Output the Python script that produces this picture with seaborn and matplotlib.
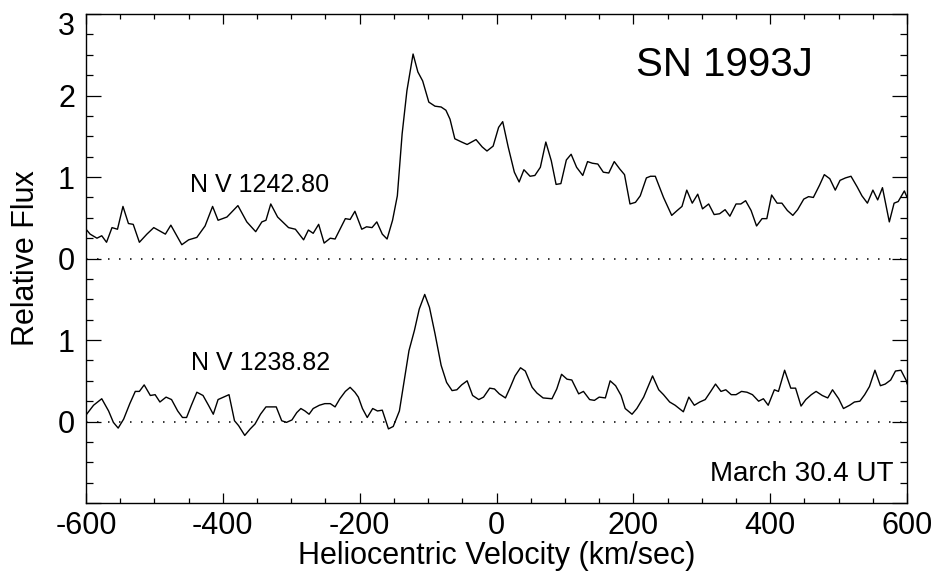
import numpy as np
import pandas as pd
import seaborn as sns
import matplotlib.pyplot as plt
import matplotlib.transforms as mtransforms
from matplotlib.ticker import MultipleLocator, FixedLocator

sns.set_theme(style="ticks")
plt.rcParams['font.family'] = ['Liberation Sans', 'DejaVu Sans']
plt.rcParams['axes.unicode_minus'] = False
for k in ('text.color', 'axes.labelcolor', 'xtick.color', 'ytick.color', 'axes.edgecolor'):
    plt.rcParams[k] = 'black'

# N V 1242.80 profile (upper panel)
v_1242 = [-600, -594, -584, -577, -570, -562, -554, -546, -538, -531, -522, -511, -501,
          -484, -476, -460, -450, -438, -426, -415, -407, -394, -378, -365, -352, -343,
          -337, -330, -320, -304, -294, -282, -275, -268, -260, -252, -243, -236, -221,
          -214, -207, -197, -190, -182, -175, -167, -160, -152, -145, -138, -131, -122,
          -115, -108, -99, -90, -81, -74, -68, -61, -51, -43, -30, -21, -14, -5, 3, 9,
          17, 26, 33, 40, 49, 56, 64, 72, 80, 87, 94, 102, 109, 117, 126, 133, 140, 148,
          156, 164, 172, 180, 187, 195, 203, 210, 219, 225, 232, 244, 256, 264, 271, 278,
          286, 294, 301, 310, 318, 326, 334, 341, 350, 357, 364, 372, 380, 388, 395, 402,
          410, 417, 425, 433, 440, 449, 456, 463, 472, 479, 487, 495, 502, 510, 518, 527,
          534, 542, 550, 557, 564, 574, 581, 587, 596, 600]
flux_1242 = [0.36, 0.30, 0.25, 0.28, 0.20, 0.38, 0.36, 0.64, 0.43, 0.42, 0.20, 0.30, 0.38,
             0.30, 0.41, 0.17, 0.23, 0.26, 0.40, 0.64, 0.47, 0.51, 0.65, 0.45, 0.33, 0.45,
             0.47, 0.67, 0.51, 0.38, 0.36, 0.23, 0.35, 0.31, 0.42, 0.19, 0.25, 0.24, 0.49,
             0.48, 0.58, 0.36, 0.39, 0.38, 0.45, 0.30, 0.24, 0.47, 0.77, 1.53, 2.06, 2.51,
             2.29, 2.18, 1.92, 1.87, 1.86, 1.82, 1.71, 1.47, 1.43, 1.40, 1.46, 1.37, 1.32,
             1.38, 1.61, 1.68, 1.37, 1.06, 0.94, 1.09, 1.01, 1.02, 1.12, 1.43, 1.20, 0.91,
             0.92, 1.21, 1.28, 1.12, 1.02, 1.19, 1.17, 1.16, 1.06, 1.05, 1.19, 1.10, 1.03,
             0.67, 0.69, 0.77, 0.99, 1.01, 1.01, 0.75, 0.53, 0.59, 0.64, 0.84, 0.68, 0.79,
             0.61, 0.67, 0.54, 0.55, 0.60, 0.52, 0.67, 0.67, 0.71, 0.59, 0.40, 0.49, 0.49,
             0.78, 0.68, 0.68, 0.59, 0.53, 0.60, 0.73, 0.76, 0.75, 0.90, 1.03, 0.98, 0.84,
             0.96, 0.99, 1.01, 0.88, 0.77, 0.68, 0.84, 0.72, 0.87, 0.45, 0.68, 0.70, 0.83,
             0.75]

# N V 1238.82 profile (lower panel)
v_1238 = [-600, -589, -577, -567, -560, -553, -545, -536, -528, -522, -515, -506, -499,
          -492, -483, -475, -466, -459, -453, -446, -438, -429, -421, -414, -407, -399,
          -391, -383, -377, -368, -360, -353, -345, -337, -329, -322, -314, -307, -299,
          -292, -286, -280, -274, -268, -259, -251, -243, -236, -229, -221, -214, -207,
          -202, -196, -189, -181, -174, -167, -158, -151, -142, -135, -128, -120, -113,
          -105, -98, -90, -81, -73, -65, -58, -51, -43, -35, -26, -19, -10, -3, 4, 13,
          20, 27, 35, 42, 52, 59, 68, 81, 88, 95, 103, 110, 120, 127, 136, 143, 150, 159,
          166, 174, 182, 188, 198, 205, 215, 228, 237, 244, 253, 261, 273, 281, 289, 297,
          305, 313, 320, 328, 335, 343, 350, 358, 366, 374, 383, 390, 397, 406, 412, 421,
          430, 437, 445, 452, 460, 467, 476, 484, 491, 500, 507, 516, 523, 531, 538, 545,
          553, 561, 568, 576, 583, 591, 599, 600]
flux_1238 = [0.08, 0.20, 0.28, 0.13, -0.01, -0.08, 0.03, 0.22, 0.37, 0.37, 0.45, 0.32, 0.33,
             0.24, 0.30, 0.27, 0.13, 0.05, 0.05, 0.20, 0.36, 0.32, 0.20, 0.09, 0.27, 0.30,
             0.33, 0.01, -0.05, -0.17, -0.09, -0.03, 0.09, 0.18, 0.18, 0.18, 0.01, -0.01,
             0.02, 0.11, 0.16, 0.13, 0.09, 0.16, 0.20, 0.22, 0.22, 0.18, 0.28, 0.37, 0.42,
             0.36, 0.30, 0.16, 0.05, 0.16, 0.13, 0.14, -0.09, -0.06, 0.13, 0.50, 0.87, 1.12,
             1.38, 1.56, 1.40, 1.08, 0.69, 0.48, 0.38, 0.39, 0.45, 0.50, 0.32, 0.27, 0.30,
             0.41, 0.40, 0.34, 0.29, 0.42, 0.56, 0.66, 0.62, 0.42, 0.35, 0.29, 0.28, 0.40,
             0.58, 0.52, 0.51, 0.34, 0.37, 0.27, 0.26, 0.30, 0.29, 0.50, 0.44, 0.32, 0.16,
             0.09, 0.16, 0.30, 0.56, 0.39, 0.33, 0.24, 0.20, 0.12, 0.30, 0.20, 0.24, 0.27,
             0.37, 0.46, 0.37, 0.39, 0.33, 0.33, 0.37, 0.36, 0.33, 0.25, 0.28, 0.20, 0.39,
             0.37, 0.63, 0.41, 0.41, 0.19, 0.27, 0.33, 0.37, 0.32, 0.29, 0.39, 0.28, 0.16,
             0.20, 0.24, 0.25, 0.33, 0.43, 0.63, 0.44, 0.46, 0.51, 0.62, 0.63, 0.50, 0.46]

offset = 2.0  # upper spectrum shifted up by 2 flux units
ytick_pos = [-1, 0, 1, 2, 3, 4, 5]
ytick_lab = ['', '0', '1', '0', '1', '2', '3']

df_up = pd.DataFrame({'v': v_1242, 'flux': np.array(flux_1242) + offset})
df_lo = pd.DataFrame({'v': v_1238, 'flux': flux_1238})

fig, ax = plt.subplots(figsize=(9.4, 5.87), dpi=100)
fig.subplots_adjust(left=0.0915, right=0.965, top=0.976, bottom=0.143)

sns.lineplot(data=df_up, x='v', y='flux', ax=ax, color='black', lw=1.0,
             sort=False, estimator=None)
sns.lineplot(data=df_lo, x='v', y='flux', ax=ax, color='black', lw=1.0,
             sort=False, estimator=None)

# zero levels
for z in (0, offset):
    ax.axhline(z, color='black', lw=1.1, ls=(0, (1, 6.2)))

ax.set_xlim(-600, 600)
ax.set_ylim(-1, 5)
ax.xaxis.set_major_locator(MultipleLocator(200))
ax.xaxis.set_minor_locator(MultipleLocator(50))
ax.yaxis.set_major_locator(FixedLocator(ytick_pos))
ax.yaxis.set_minor_locator(MultipleLocator(0.25))
ax.set_yticklabels(ytick_lab)

ax.tick_params(axis='both', which='both', direction='in', top=True, right=True,
               color='black', width=0.9)
ax.tick_params(axis='x', which='major', length=7, pad=6, labelsize=22)
ax.tick_params(axis='x', which='minor', length=3.6)
ax.tick_params(axis='y', which='major', length=11, pad=8, labelsize=22)
ax.tick_params(axis='y', which='minor', length=5)
for s in ax.spines.values():
    s.set_linewidth(1.0)

# top "3" label sits a little below its tick in the original
top_lab = ax.get_yticklabels()[-1]
top_lab.set_transform(top_lab.get_transform() +
                      mtransforms.ScaledTranslation(0, -7 / 72, fig.dpi_scale_trans))

ax.set_xlabel('Heliocentric Velocity (km/sec)', fontsize=22, labelpad=0)
ax.set_ylabel('Relative Flux', fontsize=22, labelpad=12)

ax.text(-347, 2.90, 'N V 1242.80', fontsize=18, ha='center', va='center')
ax.text(-345, 0.72, 'N V 1238.82', fontsize=18, ha='center', va='center')
ax.text(333, 4.37, 'SN 1993J', fontsize=29, ha='center', va='center')
ax.text(580, -0.64, 'March 30.4 UT', fontsize=20, ha='right', va='center')

fig.savefig('out.png', dpi=100)
